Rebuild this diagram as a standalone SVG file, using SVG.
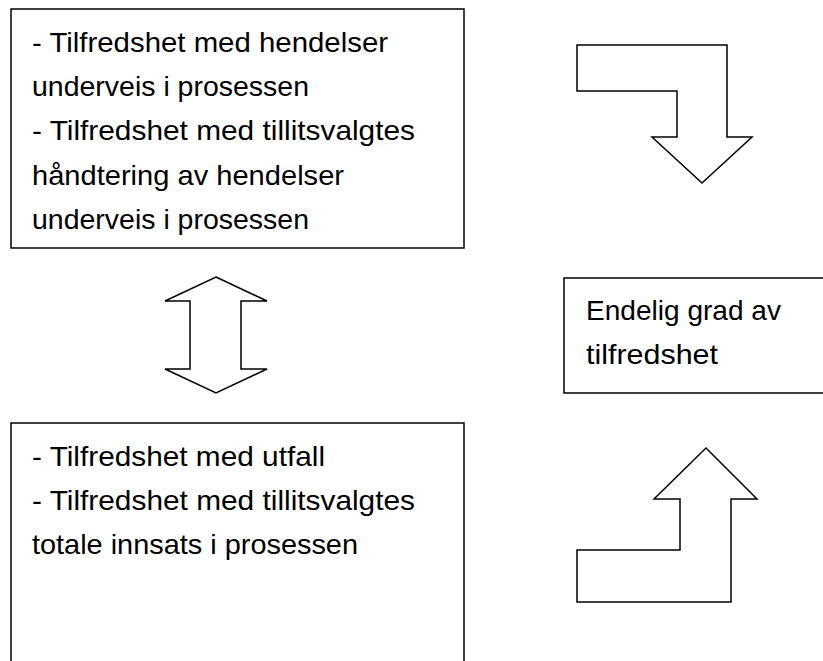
<svg xmlns="http://www.w3.org/2000/svg" width="823" height="661" viewBox="0 0 823 661">
<style>
.box{fill:#fff;stroke:#000;stroke-width:1.5}
.arr{fill:#fff;stroke:#000;stroke-width:1.5;stroke-linejoin:miter}
text{font-family:"Liberation Sans",Arial,sans-serif;font-size:28px;fill:#000}
</style>
<rect width="823" height="661" fill="#fff"/>
<g id="box-top">
<rect class="box" x="11" y="9" width="453" height="239"/>
<text x="32" y="51.5" textLength="356" lengthAdjust="spacingAndGlyphs">- Tilfredshet med hendelser</text>
<text x="32" y="95.5" textLength="277" lengthAdjust="spacingAndGlyphs">underveis i prosessen</text>
<text x="32" y="140" textLength="383" lengthAdjust="spacingAndGlyphs">- Tilfredshet med tillitsvalgtes</text>
<text x="32" y="184.5" textLength="312" lengthAdjust="spacingAndGlyphs">håndtering av hendelser</text>
<text x="32" y="229" textLength="277" lengthAdjust="spacingAndGlyphs">underveis i prosessen</text>
</g>
<g id="box-bottom">
<path class="box" d="M11,662 V423 H464 V662"/>
<text x="32" y="466" textLength="293" lengthAdjust="spacingAndGlyphs">- Tilfredshet med utfall</text>
<text x="32" y="510" textLength="383" lengthAdjust="spacingAndGlyphs">- Tilfredshet med tillitsvalgtes</text>
<text x="32" y="554" textLength="326" lengthAdjust="spacingAndGlyphs">totale innsats i prosessen</text>
</g>
<g id="box-final">
<path class="box" d="M824,278 H564 V393 H824"/>
<text x="586" y="320" textLength="195" lengthAdjust="spacingAndGlyphs">Endelig grad av</text>
<text x="586" y="364" textLength="132" lengthAdjust="spacingAndGlyphs">tilfredshet</text>
</g>
<g id="connectors">
<polygon class="arr" points="577,45 727,45 727,137 752,137 702,183 652,137 677,137 677,91 577,91"/>
<polygon class="arr" points="216,277 267,301 241,301 241,369 267,369 216,393 165,369 190,369 190,301 165,301"/>
<polygon class="arr" points="577,550 680,550 680,499 654,499 706,448 757,499 731,499 731,602 577,602"/>
</g>
</svg>
